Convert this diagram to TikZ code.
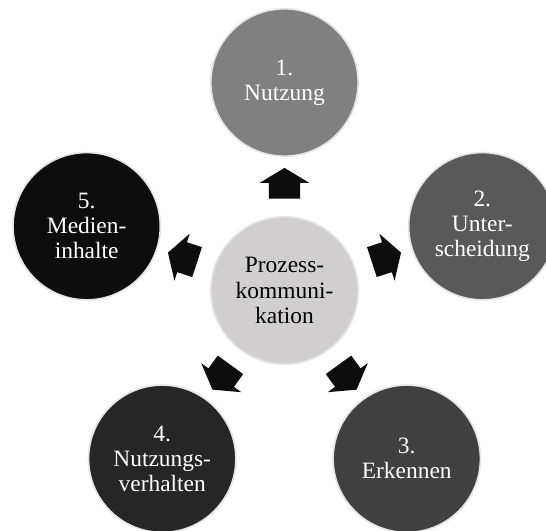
\documentclass[tikz,border=0pt]{standalone}
\usepackage{fontspec}
\setmainfont{Liberation Serif}
\usepackage{tikz}
\usetikzlibrary{shapes.arrows, positioning, calc}
\definecolor{stepA}{HTML}{808080}
\definecolor{stepB}{HTML}{595959}
\definecolor{stepC}{HTML}{404040}
\definecolor{stepD}{HTML}{262626}
\definecolor{stepE}{HTML}{0D0D0D}
\definecolor{coreGray}{HTML}{D0CECF}
\definecolor{ringGray}{HTML}{E4E4E4}
\definecolor{arrowBlack}{HTML}{0D0D0D}

\begin{document}
\begin{tikzpicture}[
    x=0.03cm, y=0.03cm,
    phase/.style={circle, draw=ringGray, line width=0.05cm, fill=#1, text=white,
                  minimum size=4.42cm, inner sep=0pt, align=center,
                  font=\fontsize{20}{21.4}\selectfont},
    core/.style={phase=coreGray, text=black},
    flow/.style={single arrow, fill=arrowBlack, draw=none,
                 inner xsep=0pt, inner ysep=0.465cm, minimum height=0.92cm,
                 single arrow head extend=0.27cm, single arrow tip angle=118},
]
    \useasboundingbox (-284.5,-240.5) rectangle (261.5,290.5);
    \clip (-284.5,-240.5) rectangle (261.5,290.5);

    % Center
    \node[core] (core) at (0,0) {Prozess-\\kommuni-\\kation};

    % Phases around the center
    \node[phase=stepA] (nutzung) at (90:208) {1.\\Nutzung};
    \node[phase=stepB] (unterscheidung) at (18:208) {2.\\Unter-\\scheidung};
    \node[phase=stepC] (erkennen) at (-54:208) {3.\\Erkennen};
    \node[phase=stepD] (verhalten) at (-126:208) {4.\\Nutzungs-\\verhalten};
    \node[phase=stepE] (inhalte) at (162:208) {5.\\Medien-\\inhalte};

    % Arrows
    \foreach \ang/\nm in {90/toNutzung, 18/toUnter, -54/toErkennen, -126/toVerhalten, 162/toInhalte}
        \node[flow, rotate=\ang] (\nm) at (\ang:102.5) {};
\end{tikzpicture}
\end{document}
